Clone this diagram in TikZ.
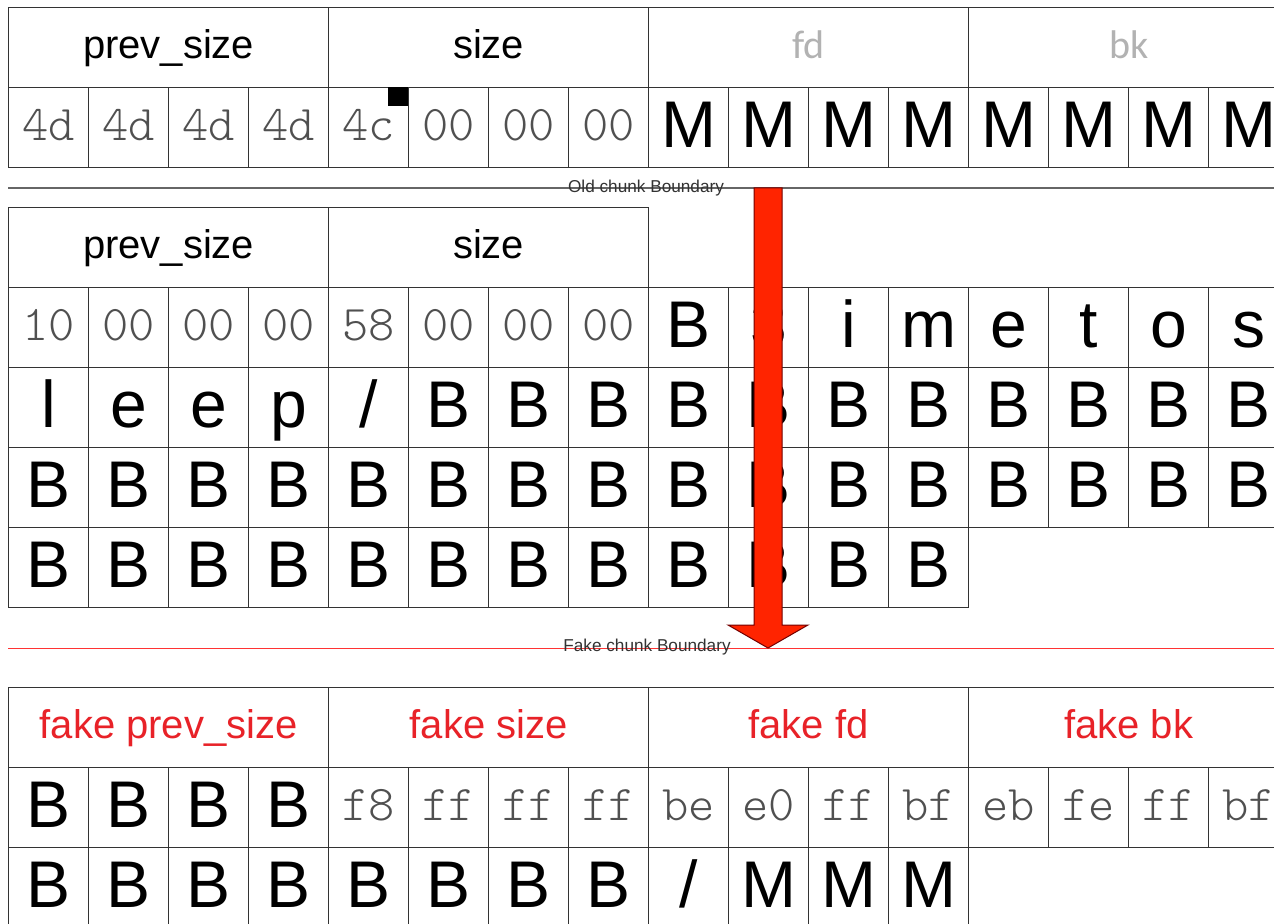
\documentclass[tikz,border=0pt]{standalone}
\usepackage{fontspec}
\setmainfont{Liberation Sans}
\newfontfamily\lightfont{Carlito}
\newfontfamily\hexfont[Extension=.otf]{lmmonolt10-regular}
\usetikzlibrary{calc}

\definecolor{fakered}{RGB}{232,34,40}
\definecolor{arrowred}{RGB}{255,36,0}
\definecolor{hexgray}{RGB}{80,80,80}

\newcommand{\fieldfont}{\fontsize{20}{22}\selectfont}
\newcommand{\bytefont}{\hexfont\fontsize{25}{26}\selectfont}
\newcommand{\letterfont}{\fontsize{33}{34}\selectfont}

\tikzset{
    cell/.style={draw=black!80, line width=0.6pt, inner sep=0pt,
        minimum height=40pt, anchor=north west},
    field/.style={cell, minimum width=160pt, font=\fieldfont,
        text height=15pt, text depth=4pt},
    hexbyte/.style={cell, minimum width=40pt, font=\bytefont, text=hexgray,
        text height=16pt, text depth=3pt},
    bigbyte/.style={cell, minimum width=40pt, font=\letterfont,
        text height=24pt, text depth=4pt},
    boundlbl/.style={font=\fontsize{8.6}{10}\selectfont, text=black!80, inner sep=0pt}
}

\begin{document}
\begin{tikzpicture}[x=0.5pt, y=-0.5pt]
    \clip (0,0) rectangle (1274,924);
    \fill[white] (0,0) rectangle (1274,924);

    % Old chunk
    \foreach \t [count=\i from 0] in {prev\_size,size}
        \node[field] (old-f\i) at ({8+320*\i},7) {\t};
    \foreach \t [count=\i from 2] in {fd,bk}
        \node[field, font=\lightfont\fieldfont, text=black!30] (old-f\i) at ({8+320*\i},7) {\t};
    \foreach \t [count=\i from 0] in {4d,4d,4d,4d,4c,00,00,00}
        \node[hexbyte] (old-b\i) at ({8+80*\i},87) {\t};
    \foreach \i in {8,...,15}
        \node[bigbyte] (old-b\i) at ({8+80*\i},87) {M};
    \fill (388,87) rectangle (408,106);

    \coordinate (oldL) at (8,188);
    \coordinate (oldR) at (1274,188);
    \draw[black!60, line width=1pt] (oldL) -- (oldR);
    \node[boundlbl] (oldlbl) at (646,188) {Old chunk Boundary};

    % Chunk after the overflow
    \foreach \t [count=\i from 0] in {prev\_size,size}
        \node[field] (mid-f\i) at ({8+320*\i},207) {\t};
    \foreach \t [count=\i from 0] in {10,00,00,00,58,00,00,00}
        \node[hexbyte] (mid-a\i) at ({8+80*\i},287) {\t};
    \foreach \t [count=\i from 8] in {B,3,i,m,e,t,o,s}
        \node[bigbyte] (mid-a\i) at ({8+80*\i},287) {\t};
    \foreach \t [count=\i from 0] in {l,e,e,p,/,B,B,B,B,B,B,B,B,B,B,B}
        \node[bigbyte] (mid-b\i) at ({8+80*\i},367) {\t};
    \foreach \i in {0,...,15}
        \node[bigbyte] (mid-c\i) at ({8+80*\i},447) {B};
    \foreach \i in {0,...,11}
        \node[bigbyte] (mid-d\i) at ({8+80*\i},527) {B};

    \coordinate (fakeL) at (8,648);
    \coordinate (fakeR) at (1274,648);
    \draw[red!80, line width=0.5pt] (fakeL) -- (fakeR);
    \node[boundlbl] (fakelbl) at (647,647) {Fake chunk Boundary};

    % Fake chunk
    \foreach \t [count=\i from 0] in {fake prev\_size,fake size,fake fd,fake bk}
        \node[field, text=fakered] (fake-f\i) at ({8+320*\i},687) {\t};
    \foreach \i in {0,...,3}
        \node[bigbyte] (fake-a\i) at ({8+80*\i},767) {B};
    \foreach \t [count=\i from 4] in {f8,ff,ff,ff,be,e0,ff,bf,eb,fe,ff,bf}
        \node[hexbyte] (fake-a\i) at ({8+80*\i},767) {\t};
    \foreach \t [count=\i from 0] in {B,B,B,B,B,B,B,B,/,M,M,M}
        \node[bigbyte] (fake-b\i) at ({8+80*\i},847) {\t};

    % block arrow from the old boundary down to the fake one
    \coordinate (arrtop) at (768,188);
    \coordinate (arrtip) at (768,648);
    \filldraw[fill=arrowred, draw=red!45!black, line width=0.5pt]
        ($(arrtop)+(-14,0)$) -- ($(arrtop)+(14,0)$) -- ($(arrtip)+(14,-23)$)
        -- ($(arrtip)+(40,-23)$) -- (arrtip) -- ($(arrtip)+(-40,-23)$)
        -- ($(arrtip)+(-14,-23)$) -- cycle;
\end{tikzpicture}
\end{document}
